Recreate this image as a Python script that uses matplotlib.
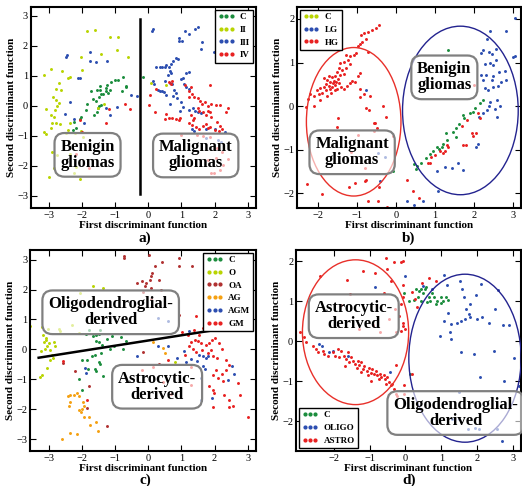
import matplotlib
matplotlib.use('Agg')
from matplotlib import pyplot as plt
from matplotlib.lines import Line2D
import matplotlib.patches
import numpy as np

plt.rcParams['font.family'] = ['Liberation Serif', 'DejaVu Serif']

GREEN = '#1a8c3c'
YGREEN = '#b8d400'
BLUE = '#2b4db0'
RED = '#e82020'
DRED = '#b03030'
ORANGE = '#f5a010'

# ---- panel a: C / II / III / IV ----
a_C = [(-0.16, 0.96), (-0.76, 0.96), (-0.91, 0.87), (-1.01, 0.87), (-0.66, 0.67), (-0.68, 0.62),
       (-0.78, 0.48), (-1.11, 0.81), (-1.24, 0.70), (-1.28, 0.59), (-1.28, 0.48), (-1.36, 0.39),
       (-1.46, 0.53), (-1.46, 0.67), (-1.56, 0.53), (-1.48, 0.31), (-1.41, 0.40), (-1.72, 0.51),
       (-1.66, 0.22), (-1.58, 0.17), (-1.48, 0.00), (-1.41, 0.03), (-1.51, -0.08), (-1.85, 0.07),
       (-1.89, -0.13), (-1.64, -0.30), (-1.54, -0.21), (-2.02, -0.36), (-2.07, -0.43), (-2.25, -0.52),
       (-2.19, -0.74), (-2.27, -0.80), (-1.21, 0.42), (-1.16, 0.53)]
a_II = [(-1.85, 2.48), (-1.61, 2.53), (-1.16, 2.29), (-0.91, 2.29), (-0.94, 1.87), (-0.61, 1.64),
        (-2.02, 1.64), (-1.43, 1.72), (-2.92, 1.22), (-2.60, 1.17), (-3.14, 1.02), (-2.37, 0.96),
        (-2.42, 0.92), (-2.01, 1.20), (-2.69, 0.76), (-2.77, 0.56), (-2.64, 0.53), (-2.87, 0.31),
        (-2.79, 0.20), (-2.69, 0.09), (-3.07, -0.11), (-2.81, -0.13), (-2.74, 0.00), (-2.92, -0.30),
        (-2.85, -0.36), (-2.90, -0.58), (-2.77, -0.58), (-2.67, -0.60), (-2.37, -0.58), (-2.94, -0.74),
        (-3.15, -0.86), (-3.07, -0.93), (-2.42, -0.80), (-2.22, -0.91), (-2.04, -0.83), (-2.47, -0.89),
        (-2.75, -1.63), (-2.89, -1.52), (-2.35, -1.60), (-1.97, -1.02), (-2.17, -2.02), (-2.84, -2.08),
        (-3.00, -2.36), (-2.07, -2.43), (-2.25, -2.24), (-1.51, -0.08), (-1.32, 0.06), (0.09, 0.76),
        (0.52, 0.68)]
a_III = [(-2.47, 1.64), (-2.45, 1.70), (-1.77, 1.78), (-1.75, 1.50), (-1.57, 1.46), (-1.23, 1.50),
         (-2.12, 0.94), (-2.07, 0.94), (-2.37, 0.12), (-2.52, -0.26), (-2.25, -0.42), (-1.94, -0.58),
         (-1.16, -0.30), (-0.94, -0.03), (-0.51, 0.37), (-0.34, 0.34), (-1.28, -0.08),
         (0.11, 2.51), (0.14, 2.57), (1.11, 2.48), (1.22, 2.39), (1.41, 2.57), (1.51, 2.62),
         (0.92, 2.26), (0.94, 2.17), (1.01, 2.17), (1.61, 2.12), (1.59, 1.90), (1.97, 1.81),
         (0.84, 1.59), (0.91, 1.57), (0.74, 1.48), (0.69, 1.39), (0.62, 1.31), (0.54, 1.37),
         (0.49, 1.28), (0.42, 1.31), (0.36, 1.28), (0.24, 1.31), (0.66, 1.17), (0.69, 1.09),
         (0.59, 1.03), (1.22, 1.14), (1.14, 1.09), (1.04, 0.94), (0.99, 0.90), (0.14, 0.83),
         (0.16, 0.73), (0.49, 0.83), (0.66, 0.76), (0.72, 0.72), (0.29, 0.53), (0.36, 0.51),
         (0.42, 0.51), (0.46, 0.46), (0.54, 0.37), (0.79, 0.53), (0.84, 0.42), (0.74, 0.34),
         (0.86, 0.26), (1.09, 0.73), (1.14, 0.64), (1.22, 0.57), (0.66, 0.07), (0.99, 0.14),
         (1.04, -0.02), (0.96, -0.17), (1.24, -0.13), (1.36, -0.08), (1.42, -0.17), (1.49, -0.21),
         (1.59, -0.24), (1.32, -0.77), (1.39, -0.83), (1.73, -0.77), (2.00, -0.77), (2.30, -0.88),
         (2.10, -1.13), (2.20, -1.21), (1.75, -1.06)]
a_IV = [(-2.05, -0.47), (-2.00, -0.86), (-1.26, -0.56), (-1.18, -0.10), (-0.69, 0.07), (-0.56, -0.11),
        (-2.17, -1.61), (-1.79, -2.08),
        (0.62, 0.79), (0.69, 0.72), (0.72, 0.83), (0.24, 0.57), (0.04, 0.37), (0.02, 0.03),
        (0.19, -0.21), (1.12, 0.68), (1.29, 0.64), (1.85, 0.70), (1.24, 0.48), (1.32, 0.39),
        (1.22, 0.28), (1.39, 0.28), (1.49, 0.26), (1.56, 0.17), (1.62, 0.06), (1.70, 0.12),
        (1.80, 0.01), (1.90, 0.07), (2.03, 0.03), (2.15, 0.03), (2.40, -0.06), (2.35, -0.21),
        (1.49, -0.06), (1.54, -0.17), (1.64, -0.21), (1.80, -0.17), (1.87, -0.19), (1.73, -0.30),
        (1.90, -0.36), (1.29, -0.30), (1.39, -0.41), (1.34, -0.47), (1.24, -0.56), (0.52, -0.28),
        (0.49, -0.43), (0.62, -0.39), (0.72, -0.39), (0.84, -0.43), (0.92, -0.47), (0.96, -0.41),
        (1.32, -0.63), (1.44, -0.69), (1.54, -0.77), (1.64, -0.66), (1.73, -0.61), (1.80, -0.74),
        (1.87, -0.69), (2.00, -0.80), (2.07, -0.54), (2.15, -0.66), (2.13, -0.83), (2.23, -0.77),
        (0.99, -0.97), (1.46, -0.97), (1.64, -0.99), (1.85, -1.02), (2.07, -1.41), (2.23, -1.52),
        (2.40, -1.77), (2.03, -1.74), (1.80, -1.80), (2.25, -1.97), (2.15, -2.13), (1.90, -2.24),
        (1.97, -2.24)]
a_line = [(-0.26, 2.89), (-0.26, -2.94)]

# ---- panel b: C / LG / HG ----
b_C = [(1.34, 1.29), (2.22, 0.14), (2.15, 0.06), (2.02, -0.05), (1.98, -0.13), (1.71, -0.20),
       (1.62, -0.41), (1.55, -0.51), (1.45, -0.59), (1.54, -0.70), (1.28, -0.62), (1.32, -0.78),
       (1.21, -0.87), (1.17, -0.93), (1.04, -0.95), (0.94, -1.04), (0.87, -1.10), (0.64, -1.31),
       (0.53, -1.37), (0.52, -1.45), (0.47, -1.34), (-0.08, -1.48), (1.89, -0.15), (1.74, -0.28),
       (1.10, -0.98), (0.78, -1.20)]
b_LG = [(3.04, 2.02), (2.81, 1.72), (2.40, 1.73), (2.32, 1.53), (2.56, 1.30), (2.47, 1.20),
        (2.39, 1.25), (2.23, 1.29), (2.19, 1.21), (3.00, 1.12), (3.04, 1.14), (2.27, 0.97),
        (2.42, 0.98), (2.56, 1.06), (2.49, 0.94), (2.64, 0.79), (2.78, 0.81), (2.83, 0.60),
        (2.70, 0.56), (2.62, 0.46), (2.49, 0.43), (2.36, 0.37), (2.27, 0.41), (2.45, 0.60),
        (2.23, 0.60), (2.17, 0.71), (2.30, 0.71), (2.49, 0.68), (2.58, 0.14), (2.40, 0.10),
        (2.66, 0.00), (2.53, -0.07), (2.39, 0.00), (2.32, -0.09), (2.13, -0.26), (2.22, -0.16),
        (2.05, -0.93), (2.11, -0.88), (2.58, -0.24), (1.04, -1.50), (1.26, -1.39), (1.43, -1.41),
        (1.60, -1.30), (1.72, -1.46), (1.09, -1.96), (0.28, -2.19), (0.47, -2.27), (0.69, -2.19),
        (-0.40, -1.73), (-0.29, -1.16), (-0.47, -1.07), (-0.76, 0.36)]
b_HG = [(-0.44, 1.87), (-0.50, 1.80), (-0.61, 1.75), (-0.72, 1.71), (-0.81, 1.67), (-0.89, 1.63),
        (-0.76, 1.53), (-0.87, 1.48), (-0.91, 1.43), (-0.98, 1.37), (-0.72, 1.24), (-1.01, 1.21),
        (-1.08, 1.17), (-1.18, 1.15), (-1.27, 1.17), (-1.23, 1.06), (-1.34, 1.02), (-1.42, 0.98),
        (-1.18, 0.97), (-1.27, 0.87), (-1.38, 0.83), (-1.46, 0.87), (-1.51, 0.79), (-1.34, 0.74),
        (-1.42, 0.71), (-1.55, 0.69), (-1.63, 0.66), (-1.49, 0.62), (-1.59, 0.58), (-1.68, 0.56),
        (-1.76, 0.60), (-1.80, 0.51), (-1.72, 0.46), (-1.63, 0.43), (-1.55, 0.49), (-1.46, 0.52),
        (-1.40, 0.43), (-1.85, 0.43), (-1.93, 0.41), (-2.02, 0.37), (-1.89, 0.31), (-1.97, 0.27),
        (-2.10, 0.23), (-2.19, 0.28), (-2.25, 0.16), (-2.31, -0.01), (-2.09, 0.00), (-1.95, 0.14),
        (-1.76, 0.23), (-1.66, 0.29), (-1.57, 0.36), (-1.51, 0.39), (-1.34, 0.39), (-1.25, 0.46),
        (-1.18, 0.52), (-1.12, 0.58), (-1.04, 0.56), (-0.98, 0.69), (-0.93, 0.75), (-1.78, 0.37),
        (-1.69, 0.39), (-1.61, 0.52), (-1.52, 0.56), (-1.72, 0.68), (-1.85, 0.64),
        (-0.91, 0.39), (-0.93, 0.22), (-0.81, 0.28), (-0.67, 0.23), (-0.76, -0.05), (-0.70, -0.09),
        (-0.32, 0.00), (-0.25, -0.24), (-0.53, -0.38), (-0.57, -0.38), (-0.48, -0.51), (-0.55, -0.58),
        (-0.08, -0.68), (-1.49, -0.28), (-1.51, -0.47), (-0.98, -0.66), (-1.15, -1.05), (-0.80, -1.42),
        (-2.27, -1.79), (-1.89, -2.02), (-1.21, -1.85), (-1.04, -1.77), (-0.76, -1.69), (-0.80, -1.73),
        (-0.44, -1.86), (-0.72, -2.17), (-0.46, -2.19), (-0.23, -2.31), (0.28, -1.69), (0.45, -1.96),
        (0.60, -2.10), (0.87, -1.30), (1.13, -1.04), (1.20, -1.08), (1.26, -1.02), (1.30, -0.89),
        (1.34, -0.93), (1.00, -1.12), (0.90, -1.17), (0.83, -1.30), (1.72, -0.89), (1.79, -0.89),
        (1.94, -0.62), (1.98, -0.69), (2.06, -0.62), (2.00, 0.49), (1.68, -0.45), (1.81, -0.33),
        (2.11, -0.16), (2.15, -0.28)]

# ---- panel c: C / O / OA / AG / AGM / GM ----
c_C = [(-1.65, 0.46), (-1.57, 0.49), (-1.47, 0.52), (-1.87, 0.52), (-1.77, 0.64), (-1.44, 0.64),
       (-1.57, 0.27), (-1.47, 0.23), (-1.39, 0.16), (-1.08, 0.46), (-0.81, 0.43), (-0.68, 0.27),
       (-1.14, 0.01), (-0.76, 0.01), (-1.68, -0.21), (-1.61, -0.18), (-1.99, -0.35), (-1.85, -0.35),
       (-1.41, -0.12), (-1.49, -0.43), (-1.45, -0.48), (-1.82, -0.66), (-1.61, -0.66), (-1.57, -0.74),
       (-1.35, -0.88), (-2.09, -0.99), (-1.99, -1.35), (-1.25, 0.33), (-1.02, 0.10)]
c_O = [(-3.55, 0.79), (-3.19, 0.75), (-3.02, 0.69), (-3.17, 0.49), (-3.09, 0.38), (-3.15, 0.23),
       (-3.07, 0.32), (-2.99, 0.21), (-3.05, 0.10), (-3.22, -0.07), (-3.12, 0.01), (-2.97, -0.01),
       (-2.85, 0.23), (-2.82, 0.12), (-2.89, -0.18), (-2.95, -0.35), (-2.87, -0.29), (-3.05, -0.62),
       (-3.19, -0.85), (-3.25, -0.93), (-2.69, 0.68), (-2.67, 0.60), (-2.29, 0.82), (-2.05, 1.88),
       (-1.65, 2.13), (-1.35, 2.05), (-2.09, 0.55), (0.82, -0.43)]
c_OA = [(-0.74, 3.13), (-0.74, 3.05), (0.02, 3.17), (0.94, 3.05), (0.92, 2.80), (1.32, 2.80),
        (0.22, 2.80), (0.42, 2.92), (0.12, 2.55), (0.09, 2.44), (0.04, 2.33), (-0.06, 2.22),
        (-0.18, 2.27), (-0.11, 2.11), (-0.35, 2.22), (-0.16, 1.91), (0.09, 2.05), (0.39, 2.00),
        (0.32, 2.31), (0.09, 1.68), (0.94, 1.16), (-1.92, 1.55), (-2.57, -0.46), (-2.19, -0.74),
        (-1.79, -1.22), (-1.85, -1.96), (-1.24, -2.58), (-0.16, -0.10), (0.32, -0.48)]
c_AG = [(-2.35, -1.52), (-2.42, -1.57), (-2.22, -1.52), (-2.15, -1.46), (-2.09, -1.55), (-2.37, -1.77),
        (-2.39, -1.91), (-1.95, -1.77), (-1.92, -1.88), (-2.07, -2.04), (-2.02, -2.10), (-1.99, -2.00),
        (-1.92, -2.26), (-1.79, -2.26), (-1.75, -2.52), (-1.57, -2.44), (-1.52, -2.74), (-2.37, -2.80),
        (-2.15, -2.82), (-2.59, -3.00), (0.14, 0.23), (0.44, 0.04), (0.52, -0.12)]
c_AGM = [(-0.34, -0.23), (0.31, 0.12), (0.59, 0.10), (1.07, -0.07), (1.22, 0.60), (0.86, -0.29),
         (1.14, -0.43), (1.29, -0.32), (1.54, -0.18), (1.66, -0.23), (1.74, -0.29), (1.46, -0.40),
         (1.64, -0.57), (1.72, -0.66), (1.79, -0.21), (1.60, -0.96), (1.92, -1.63), (1.60, -1.68),
         (2.53, -0.55), (2.60, -0.81), (2.40, -1.01), (-1.89, -0.62), (-1.87, -0.79), (0.59, 0.94),
         (0.30, 1.05)]
c_GM = [(1.02, 0.57), (1.19, 0.49), (1.39, 0.64), (1.54, 0.49), (1.66, 0.71), (1.42, 0.32),
        (1.49, 0.27), (1.59, 0.21), (1.24, 0.10), (1.36, 0.01), (1.62, -0.01), (1.74, 0.16),
        (1.84, 0.21), (1.92, 0.32), (2.02, 0.38), (2.14, 0.21), (2.22, 0.01), (1.89, -0.01),
        (1.79, -0.12), (1.94, -0.21), (2.06, -0.29), (2.33, -0.37), (2.45, -0.51), (2.35, -0.68),
        (2.22, -0.81), (2.04, -0.68), (1.94, -0.85), (2.09, -0.96), (2.24, -1.07), (2.71, -1.13),
        (1.84, -1.24), (1.94, -1.35), (1.99, -1.46), (2.27, -1.52), (2.45, -1.68), (2.55, -1.88),
        (2.43, -1.93), (1.94, -1.94), (2.77, -1.52), (3.02, -2.26), (1.44, 1.10), (1.30, 0.25),
        (1.12, -0.20), (1.45, -0.10), (1.30, -0.60), (0.60, -0.35), (-1.85, -1.71), (-2.57, -0.40),
        (-0.20, -0.70), (0.15, -0.60), (0.70, -1.50), (1.30, -1.20), (0.45, -1.10), (2.00, 1.00)]
c_line = [(-3.3, -0.28), (2.6, 0.75)]

# ---- panel d: C / OLIGO / ASTRO ----
d_C = [(-0.04, 1.21), (0.10, 1.00), (0.24, 1.03), (0.38, 1.25), (0.43, 1.29), (0.54, 1.29),
       (0.66, 1.11), (0.69, 1.00), (0.80, 1.11), (0.87, 1.00), (0.84, 0.92), (0.98, 1.09),
       (1.06, 1.00), (1.12, 1.09), (0.29, 1.29), (0.43, 1.00), (0.61, 0.98), (0.13, -0.82),
       (0.50, 1.20), (0.75, 1.20), (1.00, 0.95), (0.35, 1.10), (0.58, 1.35), (1.18, 1.02)]
d_OLIGO = [(-0.02, 1.63), (-0.85, 1.36), (0.50, 1.38), (1.07, 1.64), (1.58, 1.29), (1.52, 1.50),
           (2.11, 1.42), (1.98, 1.15), (1.63, 1.09), (1.81, 0.92), (2.57, 1.28), (2.51, 0.80),
           (1.77, 0.67), (1.80, 0.61), (1.65, 0.56), (1.54, 0.51), (1.44, 0.46), (1.28, 0.42),
           (1.07, 0.51), (2.00, 0.56), (2.14, 0.59), (2.32, 0.46), (2.72, 0.40), (2.88, 0.40),
           (1.24, 0.22), (1.26, 0.05), (0.96, 0.12), (1.54, -0.28), (1.91, -0.32), (2.46, -0.24),
           (3.02, -0.43), (2.09, -0.90), (2.74, -1.01), (3.16, -1.13), (1.49, -1.28), (1.31, -1.94),
           (1.50, -1.95), (1.75, -2.20), (1.95, -2.18), (2.05, -2.20), (2.55, -2.20), (2.69, -2.51),
           (-2.40, -0.07), (-2.33, -0.12), (-2.03, -0.24), (-1.59, -0.38), (-2.12, -0.28),
           (-0.43, -0.78), (0.75, 1.30), (1.15, 1.40), (1.70, 0.80), (1.20, 0.70)]
d_ASTRO = [(-2.95, 0.22), (-2.83, 0.09), (-2.77, -0.03), (-2.58, -0.12), (-2.49, -0.20), (-2.43, -0.28),
           (-2.31, -0.24), (-2.26, -0.32), (-2.17, -0.37), (-2.03, -0.28), (-1.97, -0.37), (-1.89, -0.20),
           (-1.80, -0.24), (-1.84, -0.41), (-1.72, -0.37), (-1.66, -0.45), (-1.59, -0.28), (-1.52, -0.41),
           (-1.56, -0.53), (-1.47, -0.49), (-1.41, -0.57), (-1.33, -0.49), (-1.29, -0.61), (-1.24, -0.53),
           (-1.35, -0.68), (-1.19, -0.70), (-1.15, -0.63), (-1.07, -0.74), (-1.01, -0.68), (-0.96, -0.80),
           (-1.04, -0.86), (-0.92, -0.70), (-0.87, -0.82), (-0.82, -0.76), (-0.78, -0.86), (-0.70, -0.82),
           (-0.67, -0.90), (-0.61, -0.85), (-0.57, -0.96), (-0.50, -0.90), (-0.45, -1.03), (-0.39, -1.11),
           (-0.33, -1.20), (-0.27, -1.32), (-0.24, -1.38), (-0.36, -1.07), (-0.55, -1.07), (-0.73, -0.95),
           (-0.96, -0.99), (-1.24, -0.78), (-1.69, -0.63), (-0.04, -1.32), (-0.04, -1.10), (-0.27, -0.61),
           (-2.37, 1.63), (-1.63, 1.53), (-1.19, 1.75), (-0.85, 1.69), (-0.52, 1.81), (-0.55, 2.08),
           (-0.31, 1.98), (-0.13, 1.98), (-0.06, 2.00), (-1.54, 1.17), (-0.06, 1.39), (-0.08, 1.09),
           (-0.13, 0.92), (-0.18, 0.63), (-0.06, 0.46), (-0.06, 0.38), (-0.02, 0.30), (-0.11, 0.26),
           (-0.27, 0.23), (-0.70, 0.23), (0.19, 1.23), (0.26, 1.06), (0.33, 0.84), (0.66, 1.58),
           (0.19, -0.82), (-0.40, 1.50), (-0.60, 1.20), (-0.90, 0.40), (-1.30, 0.30), (-1.80, 0.90),
           (0.45, 1.45), (0.85, 1.50), (-0.30, 0.80), (-0.45, 0.55)]

xlab = 'First discriminant function'
ylab = 'Second discriminant function'

fig = plt.figure(figsize=(5.22, 4.86), dpi=100)


def setup(ax, xlim, ylim, xticks, yticks):
    ax.set_xlim(xlim)
    ax.set_ylim(ylim)
    ax.set_xticks(xticks)
    ax.set_yticks(yticks)
    ax.tick_params(direction='in', top=True, right=True, length=4, width=0.8,
                   labelsize=7.5, pad=2)
    for s in ax.spines.values():
        s.set_linewidth(1.5)
    ax.set_xlabel(xlab, fontsize=8, fontweight='bold', labelpad=1)
    ax.set_ylabel(ylab, fontsize=8, fontweight='bold', labelpad=1)


def dots(ax, pts, color):
    pts = np.array(pts)
    ax.scatter(pts[:, 0], pts[:, 1], s=4.5, color=color, marker='o', linewidths=0, zorder=2)


def legend(ax, names, colors, loc):
    handles = [Line2D([], [], ls='none', marker='o', markersize=2.0, color=c) for c in colors]
    leg = ax.legend(handles, names, loc=loc, numpoints=3, fancybox=False, framealpha=1,
                    edgecolor='k', prop=dict(size=6.5, weight='bold'), handlelength=1.8,
                    handletextpad=0.6, borderpad=0.35, labelspacing=0.5, borderaxespad=0.3)
    leg.get_frame().set_linewidth(1.0)
    leg.set_zorder(6)


def label(ax, x, y, txt):
    ax.text(x, y, txt, ha='center', va='center', fontsize=12, fontweight='bold', zorder=5,
            linespacing=1.0,
            bbox=dict(boxstyle='round,pad=0.35,rounding_size=0.6', fc=(1, 1, 1, 0.62),
                      ec='0.5', lw=1.6))


# a)
ax = fig.add_axes((0.059, 0.572, 0.431, 0.414))
setup(ax, (-3.54, 3.24), (-3.4, 3.3), range(-3, 4), range(-3, 4))
dots(ax, a_C, GREEN)
dots(ax, a_II, YGREEN)
dots(ax, a_III, BLUE)
dots(ax, a_IV, RED)
ln = np.array(a_line)
ax.plot(ln[:, 0], ln[:, 1], color='k', lw=1.8, zorder=3)
label(ax, -1.83, -1.63, 'Benigin\ngliomas')
label(ax, 1.43, -1.65, 'Malignant\ngliomas')
legend(ax, ['C', 'II', 'III', 'IV'], [GREEN, YGREEN, BLUE, RED], 'upper right')

# b)
ax = fig.add_axes((0.569, 0.572, 0.429, 0.414))
setup(ax, (-2.53, 3.2), (-2.34, 2.28), range(-2, 4), range(-2, 3))
dots(ax, b_C, GREEN)
dots(ax, b_LG, BLUE)
dots(ax, b_HG, RED)
ax.add_patch(matplotlib.patches.Ellipse((-1.08, -0.36), 2.42, 3.41, fill=False, edgecolor='#e8302a', lw=1.0, zorder=3))
ax.add_patch(matplotlib.patches.Ellipse((1.65, -0.1), 2.96, 3.87, fill=False, edgecolor='#23238f', lw=1.0, zorder=3))
label(ax, 1.24, 0.66, 'Benigin\ngliomas')
label(ax, -1.12, -1.06, 'Malignant\ngliomas')
legend(ax, ['C', 'LG', 'HG'], [YGREEN, BLUE, RED], 'upper left')

# c)
ax = fig.add_axes((0.0575, 0.072, 0.433, 0.414))
setup(ax, (-3.56, 3.25), (-3.4, 3.33), range(-3, 4), range(-3, 4))
dots(ax, c_C, GREEN)
dots(ax, c_O, YGREEN)
dots(ax, c_OA, DRED)
dots(ax, c_AG, ORANGE)
dots(ax, c_AGM, BLUE)
dots(ax, c_GM, RED)
ln = np.array(c_line)
ax.plot(ln[:, 0], ln[:, 1], color='k', lw=1.8, zorder=3)
label(ax, -1.13, 1.24, 'Oligodendroglial-\nderived')
label(ax, 0.27, -1.25, 'Astrocytic-\nderived')
legend(ax, ['C', 'O', 'OA', 'AG', 'AGM', 'GM'], [GREEN, YGREEN, DRED, ORANGE, BLUE, RED], 'upper right')

# d)
ax = fig.add_axes((0.567, 0.072, 0.431, 0.414))
setup(ax, (-3.05, 3.22), (-2.75, 2.28), range(-2, 4), range(-2, 3))
dots(ax, d_C, GREEN)
dots(ax, d_OLIGO, BLUE)
dots(ax, d_ASTRO, RED)
ax.add_patch(matplotlib.patches.Ellipse((-1.39, 0.22), 2.96, 3.62, fill=False, edgecolor='#e8302a', lw=1.0, zorder=3))
ax.add_patch(matplotlib.patches.Ellipse((1.66, -0.43), 3.13, 4.2, fill=False, edgecolor='#23238f', lw=1.0, zorder=3))
label(ax, -1.44, 0.62, 'Astrocytic-\nderived')
label(ax, 1.40, -1.8, 'Oligodendroglial-\nderived')
legend(ax, ['C', 'OLIGO', 'ASTRO'], [GREEN, BLUE, RED], 'lower left')

for x, y, t in [(0.278, 0.51, 'a)'), (0.783, 0.51, 'b)'), (0.278, 0.012, 'c)'), (0.783, 0.012, 'd)')]:
    fig.text(x, y, t, ha='center', va='center', fontsize=11, fontweight='bold')

plt.savefig('out.png', dpi=100)
